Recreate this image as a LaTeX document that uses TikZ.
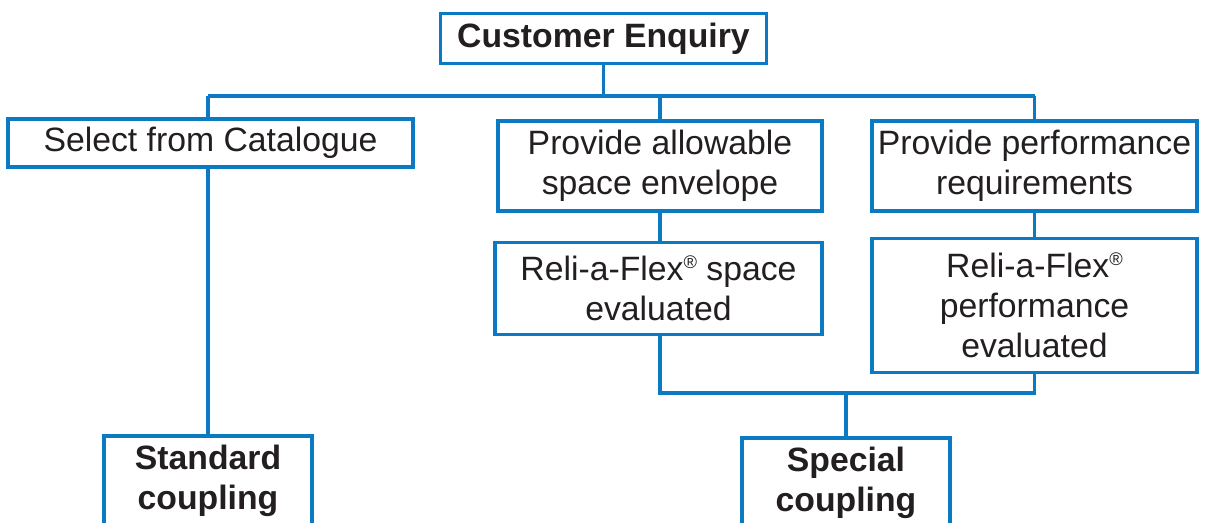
\documentclass[tikz,border=0pt]{standalone}
\usepackage{fontspec}
\setmainfont{Liberation Sans}
\usetikzlibrary{positioning}

\definecolor{boxblue}{HTML}{0A7AC2}
\definecolor{inkgrey}{HTML}{231F20}

\newcommand{\regmark}{\smash{\raisebox{8.5pt}{\fontsize{13}{13}\selectfont ®}}}

\tikzset{
  chartbox/.style={draw=boxblue, line width=2.4pt, fill=white, text=inkgrey,
    align=center, inner sep=0pt,
    font=\fontsize{24}{28.45}\selectfont},
  keybox/.style={chartbox, font=\fontsize{24}{28.45}\selectfont\bfseries},
  wire/.style={draw=boxblue, line width=2.4pt}
}

\begin{document}
\begin{tikzpicture}[x=0.025cm, y=-0.025cm]
  \useasboundingbox (0,0) rectangle (1206,523);
  \clip (0,0) rectangle (1206,523);
  % boxes
  \node[keybox, minimum width=326*0.025cm, minimum height=50*0.025cm] (enq) at (603.5,38.5) {Customer Enquiry};
  \node[chartbox, minimum width=405*0.025cm, minimum height=48*0.025cm] (cat) at (210.5,143) {Select from Catalogue};
  \node[chartbox, minimum width=324*0.025cm, minimum height=90*0.025cm] (space) at (660,166) {Provide allowable\\space envelope};
  \node[chartbox, minimum width=325*0.025cm, minimum height=90*0.025cm] (perf) at (1034.5,166) {Provide performance\\requirements};
  \node[chartbox, minimum width=327*0.025cm, minimum height=92*0.025cm] (spaceeval) at (658.5,288.5) {Reli-a-Flex\regmark{} space\\evaluated};
  \node[chartbox, minimum width=325*0.025cm, minimum height=134*0.025cm] (perfeval) at (1034.5,305.5) {Reli-a-Flex\regmark\\performance\\evaluated};
  \node[keybox, minimum width=208*0.025cm, minimum height=90*0.025cm] (std) at (208,481) {Standard\\coupling};
  \node[keybox, minimum width=208*0.025cm, minimum height=90*0.025cm] (spec) at (846,483) {Special\\coupling};
  % connectors
  \coordinate (topbus) at (603.5,96);
  \coordinate (botbus) at (846,393);
  \path[wire]
    (enq.south) -- (topbus)
    (std.north |- topbus) -- (perf.north |- topbus)
    (std.north |- topbus) -- (std.north |- cat.north)
    (space.north |- topbus) -- (space.north)
    (perf.north |- topbus) -- (perf.north)
    (std.north |- cat.south) -- (std.north)
    (space.south) -- (space.south |- spaceeval.north)
    (perf.south) -- (perfeval.north)
    (space.south |- spaceeval.south) -- (space.south |- botbus) -- (perfeval.south |- botbus) -- (perfeval.south)
    (botbus) -- (spec.north);
\end{tikzpicture}
\end{document}
